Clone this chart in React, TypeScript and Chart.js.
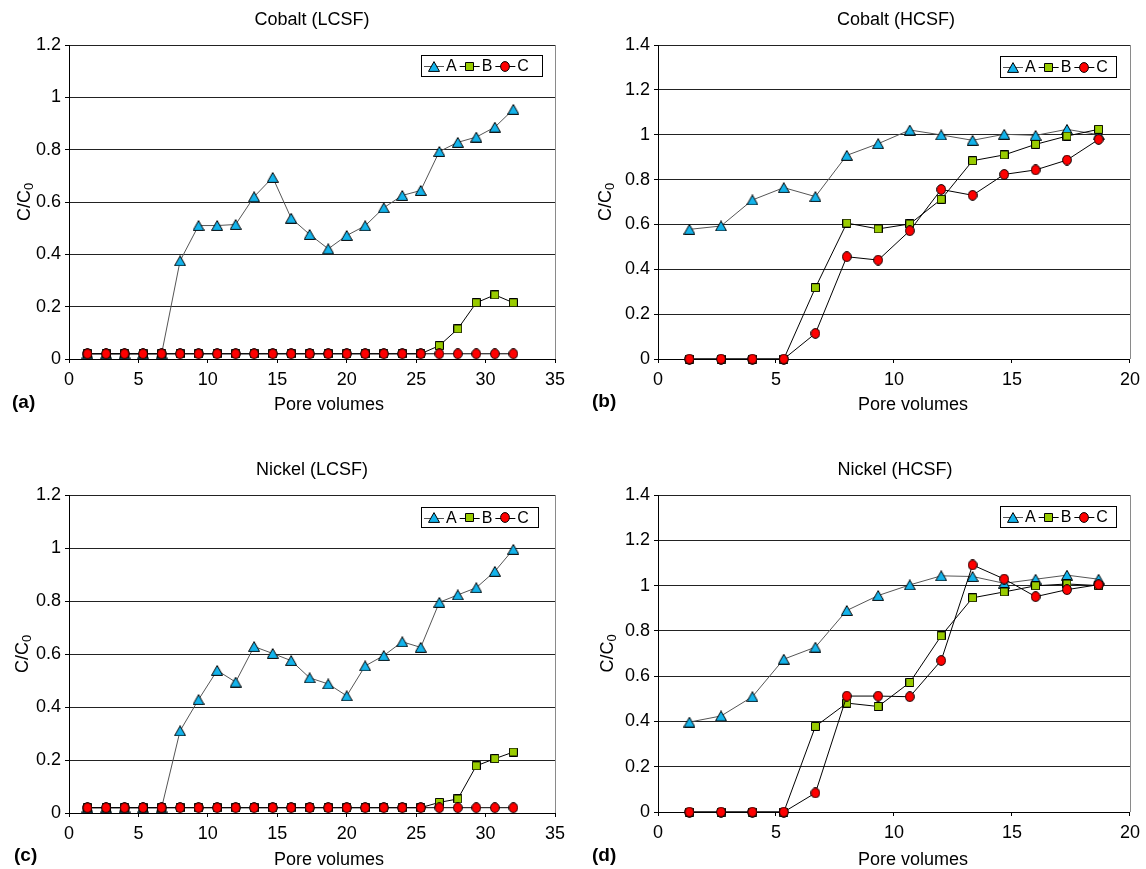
import React, { useEffect, useRef } from 'react';
import { Chart, registerables } from 'chart.js';

Chart.register(...registerables);

// ---------- data ----------
const PV_LCSF = [1.33, 2.67, 4.0, 5.33, 6.67, 8.0, 9.33, 10.67, 12.0, 13.33, 14.67, 16.0, 17.33, 18.67, 20.0, 21.33, 22.67, 24.0, 25.33, 26.67, 28.0, 29.33, 30.67, 32.0];
const PV_HCSF = [1.33, 2.67, 4.0, 5.33, 6.67, 8.0, 9.33, 10.67, 12.0, 13.33, 14.67, 16.0, 17.33, 18.67];

const SERIES_LABELS = ['A', 'B', 'C'];
const PANEL_TITLES = ['Cobalt (LCSF)', 'Cobalt (HCSF)', 'Nickel (LCSF)', 'Nickel (HCSF)'];
const PANEL_LETTERS = ['(a)', '(b)', '(c)', '(d)'];
const X_AXIS_TITLE = 'Pore volumes';

const CO_LCSF_A = [0.02, 0.02, 0.02, 0.02, 0.02, 0.375, 0.51, 0.51, 0.514, 0.62, 0.694, 0.538, 0.476, 0.421, 0.472, 0.509, 0.578, 0.625, 0.644, 0.793, 0.828, 0.848, 0.886, 0.954];
const CO_LCSF_B = [0.02, 0.02, 0.02, 0.02, 0.02, 0.02, 0.02, 0.02, 0.02, 0.02, 0.02, 0.02, 0.02, 0.02, 0.02, 0.02, 0.02, 0.02, 0.02, 0.051, 0.115, 0.215, 0.245, 0.215];
const CO_LCSF_C = [0.02, 0.02, 0.02, 0.02, 0.02, 0.02, 0.02, 0.02, 0.02, 0.02, 0.02, 0.02, 0.02, 0.02, 0.02, 0.02, 0.02, 0.02, 0.02, 0.02, 0.02, 0.02, 0.02, 0.02];

const CO_HCSF_A = [0.578, 0.593, 0.709, 0.764, 0.724, 0.908, 0.96, 1.021, 0.999, 0.975, 1.002, 0.997, 1.024, 1.0];
const CO_HCSF_B = [0, 0, 0, 0, 0.318, 0.606, 0.58, 0.602, 0.712, 0.884, 0.91, 0.957, 0.994, 1.024];
const CO_HCSF_C = [0, 0, 0, 0, 0.114, 0.456, 0.441, 0.572, 0.756, 0.73, 0.823, 0.843, 0.887, 0.979];

const NI_LCSF_A = [0.02, 0.02, 0.02, 0.02, 0.02, 0.31, 0.428, 0.538, 0.494, 0.628, 0.602, 0.575, 0.51, 0.487, 0.442, 0.555, 0.594, 0.646, 0.625, 0.795, 0.823, 0.85, 0.912, 0.995];
const NI_LCSF_B = [0.02, 0.02, 0.02, 0.02, 0.02, 0.02, 0.02, 0.02, 0.02, 0.02, 0.02, 0.02, 0.02, 0.02, 0.02, 0.02, 0.02, 0.02, 0.02, 0.04, 0.053, 0.178, 0.205, 0.23];
const NI_LCSF_C = [0.02, 0.02, 0.02, 0.02, 0.02, 0.02, 0.02, 0.02, 0.02, 0.02, 0.02, 0.02, 0.02, 0.02, 0.02, 0.02, 0.02, 0.02, 0.02, 0.02, 0.02, 0.02, 0.02, 0.02];

const NI_HCSF_A = [0.397, 0.424, 0.509, 0.675, 0.728, 0.89, 0.956, 1.003, 1.043, 1.04, 1.01, 1.028, 1.046, 1.028];
const NI_HCSF_B = [0, 0, 0, 0, 0.378, 0.481, 0.466, 0.572, 0.778, 0.946, 0.972, 0.999, 1.007, 1.0];
const NI_HCSF_C = [0, 0, 0, 0, 0.084, 0.512, 0.512, 0.509, 0.669, 1.091, 1.029, 0.951, 0.982, 1.004];

const X_MAX_LCSF = 35;
const X_MAX_HCSF = 20;
const Y_MAX_LCSF = 1.2;
const Y_MAX_HCSF = 1.4;

// ---------- styling / layout ----------
const FONT = '"Liberation Sans", Arial, Helvetica, sans-serif';
const COLORS = { A: '#14B4EC', B: '#99CC00', C: '#FF0000' };

type Layout = {
  left: number; top: number; w: number; h: number;
  plot: { l: number; r: number; t: number; b: number };
  title: [number, number];
  yTitleX: number;
  xTitle: [number, number];
  letter: [number, number];
  legend: [number, number, number, number];
};

const LAYOUTS: Layout[] = [
  { left: 0, top: 0, w: 573, h: 440, plot: { l: 69, r: 555, t: 45, b: 359 }, title: [312, 20], yTitleX: 24, xTitle: [329, 405], letter: [12, 403], legend: [421, 55, 121, 21] },
  { left: 573, top: 0, w: 573, h: 440, plot: { l: 85, r: 559, t: 45, b: 359 }, title: [323, 20], yTitleX: 32, xTitle: [340, 405], letter: [19, 402], legend: [427, 56, 116, 21] },
  { left: 0, top: 440, w: 573, h: 429, plot: { l: 69, r: 555, t: 55, b: 373 }, title: [312, 30], yTitleX: 22, xTitle: [329, 420], letter: [14, 416], legend: [421, 67, 117, 20] },
  { left: 573, top: 440, w: 573, h: 429, plot: { l: 85, r: 559, t: 55, b: 372 }, title: [322, 30], yTitleX: 34, xTitle: [340, 420], letter: [19, 416], legend: [427, 66, 116, 21] },
];

function makeMarker(kind: 'A' | 'B' | 'C'): HTMLCanvasElement {
  const c = document.createElement('canvas');
  const ctx = c.getContext('2d')!;
  if (kind === 'A') {
    c.width = 12; c.height = 11;
    ctx.beginPath();
    ctx.moveTo(6, 0.6);
    ctx.lineTo(11.5, 10.4);
    ctx.lineTo(0.5, 10.4);
    ctx.closePath();
  } else if (kind === 'B') {
    c.width = 9; c.height = 9;
    ctx.beginPath();
    ctx.rect(0.5, 0.5, 8, 8);
  } else {
    c.width = 10; c.height = 11;
    ctx.beginPath();
    ctx.ellipse(5, 5.5, 4.4, 4.9, 0, 0, Math.PI * 2);
  }
  ctx.fillStyle = COLORS[kind];
  ctx.fill();
  ctx.lineWidth = 1;
  ctx.strokeStyle = '#000';
  ctx.stroke();
  return c;
}

type PanelData = { pv: number[]; a: number[]; b: number[]; c: number[]; xMax: number; yMax: number };

const PANELS: PanelData[] = [
  { pv: PV_LCSF, a: CO_LCSF_A, b: CO_LCSF_B, c: CO_LCSF_C, xMax: X_MAX_LCSF, yMax: Y_MAX_LCSF },
  { pv: PV_HCSF, a: CO_HCSF_A, b: CO_HCSF_B, c: CO_HCSF_C, xMax: X_MAX_HCSF, yMax: Y_MAX_HCSF },
  { pv: PV_LCSF, a: NI_LCSF_A, b: NI_LCSF_B, c: NI_LCSF_C, xMax: X_MAX_LCSF, yMax: Y_MAX_LCSF },
  { pv: PV_HCSF, a: NI_HCSF_A, b: NI_HCSF_B, c: NI_HCSF_C, xMax: X_MAX_HCSF, yMax: Y_MAX_HCSF },
];

function buildChart(canvas: HTMLCanvasElement, idx: number): Chart {
  const L = LAYOUTS[idx];
  const P = PANELS[idx];
  const markers = { A: makeMarker('A'), B: makeMarker('B'), C: makeMarker('C') };
  const toPts = (ys: number[]) => ys.map((y, i) => ({ x: P.pv[i], y }));
  const series = [P.a, P.b, P.c];
  const keys: ('A' | 'B' | 'C')[] = ['A', 'B', 'C'];

  const datasets = keys.map((k, i) => ({
    label: SERIES_LABELS[i],
    data: toPts(series[i]),
    borderColor: k === 'A' ? '#555' : '#000',
    borderWidth: 1,
    pointStyle: markers[k],
    pointRadius: 5,
    pointHoverRadius: 5,
    backgroundColor: COLORS[k],
    showLine: true,
    tension: 0,
    clip: false as any,
    order: 3 - i,
  }));

  const decor = {
    id: 'decor' + idx,
    afterDatasetsDraw(chart: any) {
      const ctx = chart.ctx as CanvasRenderingContext2D;
      const ca = chart.chartArea;
      ctx.save();
      // right border
      ctx.strokeStyle = '#8a8a8a';
      ctx.lineWidth = 1;
      ctx.beginPath();
      ctx.moveTo(Math.round(ca.right) + 0.5, ca.top);
      ctx.lineTo(Math.round(ca.right) + 0.5, ca.bottom);
      ctx.stroke();

      // legend
      const [lx, ly, lw, lh] = L.legend;
      ctx.fillStyle = '#fff';
      ctx.fillRect(lx, ly, lw, lh);
      ctx.strokeStyle = '#000';
      ctx.strokeRect(lx + 0.5, ly + 0.5, lw, lh);
      ctx.font = '16px ' + FONT;
      ctx.textBaseline = 'middle';
      ctx.textAlign = 'left';
      const cy = ly + lh / 2 + 0.5;
      let x = lx + 3;
      keys.forEach((k, i) => {
        ctx.strokeStyle = k === 'A' ? '#555' : '#000';
        ctx.beginPath();
        ctx.moveTo(x, Math.round(cy) + 0.5);
        ctx.lineTo(x + 20, Math.round(cy) + 0.5);
        ctx.stroke();
        const m = markers[k];
        ctx.drawImage(m, Math.round(x + 10 - m.width / 2), Math.round(cy - m.height / 2));
        ctx.fillStyle = '#000';
        ctx.fillText(SERIES_LABELS[i], x + 22, cy + 1);
        x = x + 22 + ctx.measureText(SERIES_LABELS[i]).width + 3;
      });

      // title
      ctx.fillStyle = '#000';
      ctx.textAlign = 'center';
      ctx.textBaseline = 'middle';
      ctx.font = '18px ' + FONT;
      ctx.fillText(PANEL_TITLES[idx], L.title[0], L.title[1]);

      // x axis title
      ctx.fillText(X_AXIS_TITLE, L.xTitle[0], L.xTitle[1]);

      // panel letter
      ctx.textAlign = 'left';
      ctx.font = 'bold 19px ' + FONT;
      ctx.fillText(PANEL_LETTERS[idx], L.letter[0], L.letter[1]);

      // y axis title with subscript
      const cyMid = (ca.top + ca.bottom) / 2;
      ctx.translate(L.yTitleX, cyMid);
      ctx.rotate(-Math.PI / 2);
      ctx.font = '18px ' + FONT;
      const main = 'C/C';
      const sub = '0';
      const wMain = ctx.measureText(main).width;
      ctx.font = '13px ' + FONT;
      const wSub = ctx.measureText(sub).width;
      const total = wMain + wSub;
      ctx.textAlign = 'left';
      ctx.textBaseline = 'alphabetic';
      ctx.font = '18px ' + FONT;
      ctx.fillText(main, -total / 2, 6);
      ctx.font = '13px ' + FONT;
      ctx.fillText(sub, -total / 2 + wMain, 9);
      ctx.restore();
    },
  };

  return new Chart(canvas, {
    type: 'scatter',
    data: { datasets: datasets as any },
    options: {
      responsive: false,
      animation: false,
      devicePixelRatio: 1,
      layout: { padding: { left: 0, top: L.plot.t, right: L.w - L.plot.r, bottom: 0 } },
      plugins: { legend: { display: false }, title: { display: false }, tooltip: { enabled: false } },
      events: [],
      scales: {
        x: {
          type: 'linear',
          min: 0,
          max: P.xMax,
          ticks: { stepSize: 5, color: '#000', font: { family: FONT, size: 18 }, padding: 6, maxRotation: 0, autoSkip: false },
          grid: { drawOnChartArea: false, drawTicks: true, tickLength: 4, tickColor: '#000', color: '#000' },
          border: { display: true, color: '#000', width: 1 },
          afterFit: (s: any) => { s.height = L.h - L.plot.b; },
        },
        y: {
          type: 'linear',
          min: 0,
          max: P.yMax,
          ticks: {
            stepSize: 0.2,
            color: '#000',
            font: { family: FONT, size: 18 },
            padding: 4,
            callback: (v: any) => String(Math.round(Number(v) * 10) / 10),
          },
          grid: { drawOnChartArea: true, drawTicks: true, tickLength: 4, tickColor: '#000', color: '#222', lineWidth: 1 },
          border: { display: true, color: '#000', width: 1 },
          afterFit: (s: any) => { s.width = L.plot.l; },
        },
      },
    },
    plugins: [decor],
  } as any);
}

function Panel({ idx }: { idx: number }) {
  const ref = useRef<HTMLCanvasElement>(null);
  const L = LAYOUTS[idx];
  useEffect(() => {
    if (!ref.current) return;
    const chart = buildChart(ref.current, idx);
    return () => chart.destroy();
  }, [idx]);
  return (
    <div style={{ position: 'absolute', left: L.left, top: L.top, width: L.w, height: L.h }}>
      <canvas ref={ref} width={L.w} height={L.h} style={{ display: 'block', width: L.w, height: L.h }} />
    </div>
  );
}

export default function App() {
  return (
    <div style={{ position: 'absolute', left: 0, top: 0, width: 1146, height: 869, background: '#fff' }}>
      {[0, 1, 2, 3].map((i) => (
        <Panel key={i} idx={i} />
      ))}
    </div>
  );
}
